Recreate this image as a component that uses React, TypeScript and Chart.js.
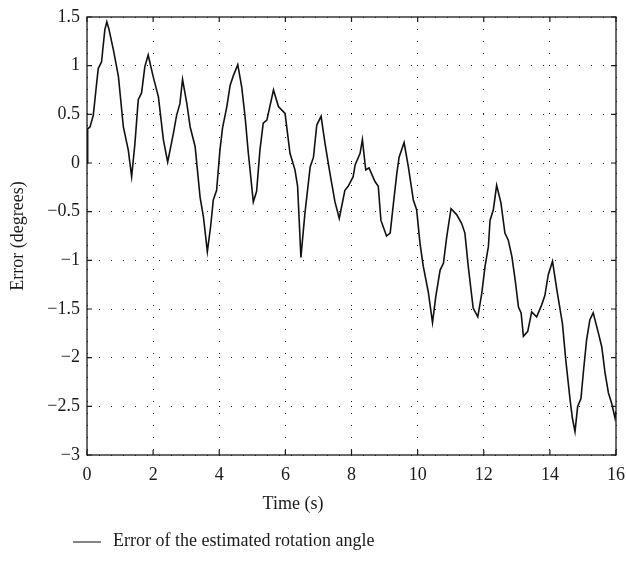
import React, { useEffect, useRef } from "react";
import { Chart, registerables } from "chart.js";

Chart.register(...registerables);

const timeValues: number[] = [
  0, 0.02, 0.09, 0.19, 0.27, 0.34, 0.44, 0.54, 0.6, 0.66, 0.8, 0.95, 1.1, 1.25, 1.35, 1.45, 1.55, 1.65, 1.75, 1.85,
  2.0, 2.16, 2.31, 2.44, 2.61, 2.71, 2.81, 2.89, 3.02, 3.12, 3.27, 3.42, 3.52, 3.64, 3.74, 3.82, 3.92, 4.02, 4.1,
  4.23, 4.33, 4.43, 4.56, 4.68, 4.78, 4.88, 5.03, 5.13, 5.23, 5.33, 5.44, 5.64, 5.79, 5.99, 6.14, 6.29, 6.37, 6.47,
  6.59, 6.75, 6.85, 6.95, 7.08, 7.2, 7.35, 7.5, 7.63, 7.8, 7.9, 8.05, 8.11, 8.26, 8.33, 8.43, 8.53, 8.71, 8.81, 8.89,
  9.06, 9.17, 9.27, 9.37, 9.44, 9.59, 9.72, 9.87, 9.97, 10.07, 10.17, 10.32, 10.45, 10.55, 10.68, 10.78, 10.88,
  11.01, 11.18, 11.33, 11.43, 11.53, 11.68, 11.82, 11.94, 12.04, 12.14, 12.19, 12.29, 12.39, 12.52, 12.64, 12.74,
  12.85, 12.95, 13.05, 13.13, 13.2, 13.33, 13.45, 13.6, 13.75, 13.85, 13.95, 14.08, 14.21, 14.38, 14.48, 14.61,
  14.68, 14.76, 14.84, 14.94, 15.01, 15.11, 15.21, 15.31, 15.47, 15.57, 15.67, 15.77, 15.87, 15.97, 16.0,
];

const errorValues: number[] = [
  0, 0.35, 0.37, 0.49, 0.75, 0.97, 1.04, 1.37, 1.45, 1.38, 1.16, 0.89, 0.37, 0.13, -0.14, 0.2, 0.65, 0.72, 0.99, 1.11,
  0.89, 0.68, 0.24, 0.01, 0.3, 0.49, 0.61, 0.86, 0.61, 0.37, 0.17, -0.35, -0.55, -0.91, -0.65, -0.38, -0.28, 0.13, 0.36,
  0.58, 0.8, 0.9, 1.01, 0.78, 0.48, 0.1, -0.4, -0.29, 0.13, 0.41, 0.44, 0.75, 0.58, 0.51, 0.1, -0.07, -0.24, -0.97,
  -0.52, -0.04, 0.06, 0.39, 0.48, 0.2, -0.11, -0.4, -0.57, -0.28, -0.24, -0.14, -0.02, 0.1, 0.24, -0.07, -0.05, -0.19, -0.24, -0.59,
  -0.75, -0.72, -0.41, -0.11, 0.06, 0.21, -0.04, -0.38, -0.48, -0.82, -1.06, -1.32, -1.64, -1.37, -1.1, -1.03, -0.76,
  -0.47, -0.53, -0.62, -0.72, -1.06, -1.49, -1.58, -1.34, -1.06, -0.86, -0.59, -0.48, -0.23, -0.41, -0.72, -0.79,
  -0.96, -1.2, -1.48, -1.54, -1.78, -1.73, -1.53, -1.58, -1.46, -1.36, -1.15, -1.01, -1.3, -1.65, -2.02, -2.43,
  -2.62, -2.76, -2.5, -2.42, -2.16, -1.82, -1.61, -1.54, -1.75, -1.89, -2.16, -2.36, -2.47, -2.62, -2.55,
];

const xTickValues: number[] = [0, 2, 4, 6, 8, 10, 12, 14, 16];
const yTickValues: number[] = [-3, -2.5, -2, -1.5, -1, -0.5, 0, 0.5, 1, 1.5];

const seriesLabel = "Error of the estimated rotation angle";
const xTitle = "Time (s)";
const yTitle = "Error (degrees)";

const FONT = "'Liberation Serif', 'DejaVu Serif', serif";

const fmt = (v: number) => {
  const s = String(Math.round(v * 10) / 10);
  return s.replace("-", "\u2212");
};

export default function App() {
  const ref = useRef<HTMLCanvasElement | null>(null);

  useEffect(() => {
    if (!ref.current) return;
    const boxPlugin = {
      id: "boxPlugin",
      afterDraw(chart: any) {
        const { ctx, chartArea } = chart;
        const { left, right, top, bottom } = chartArea;
        const xs = chart.scales.x;
        const ys = chart.scales.y;
        ctx.save();
        ctx.strokeStyle = "#1a1a1a";
        ctx.lineWidth = 1.3;
        ctx.strokeRect(left, top, right - left, bottom - top);
        const tl = 5;
        ctx.lineWidth = 1.2;
        ctx.beginPath();
        xTickValues.forEach((v) => {
          const px = xs.getPixelForValue(v);
          ctx.moveTo(px, bottom);
          ctx.lineTo(px, bottom - tl);
          ctx.moveTo(px, top);
          ctx.lineTo(px, top + tl);
        });
        yTickValues.forEach((v) => {
          const py = ys.getPixelForValue(v);
          ctx.moveTo(left, py);
          ctx.lineTo(left + tl, py);
          ctx.moveTo(right, py);
          ctx.lineTo(right - tl, py);
        });
        ctx.stroke();
        // x title
        ctx.fillStyle = "#1a1a1a";
        ctx.font = `18px ${FONT}`;
        ctx.textAlign = "center";
        ctx.textBaseline = "middle";
        ctx.fillText(xTitle, 293, 504);
        // legend
        ctx.beginPath();
        ctx.strokeStyle = "#333";
        ctx.lineWidth = 1.2;
        ctx.moveTo(73, 542);
        ctx.lineTo(101, 542);
        ctx.stroke();
        ctx.textAlign = "left";
        ctx.fillText(seriesLabel, 113, 541);
        ctx.restore();
      },
    };

    const chart = new Chart(ref.current, {
      type: "line",
      data: {
        datasets: [
          {
            label: seriesLabel,
            data: timeValues.map((t, i) => ({ x: t, y: errorValues[i] })),
            borderColor: "#111",
            borderWidth: 1.6,
            pointRadius: 0,
            tension: 0,
            fill: false,
          },
        ],
      },
      options: {
        animation: false,
        responsive: true,
        maintainAspectRatio: false,
        layout: { padding: { left: 0, right: 10, top: 17, bottom: 0 } },
        plugins: {
          legend: { display: false },
          tooltip: { enabled: false },
        },
        scales: {
          x: {
            type: "linear",
            min: 0,
            max: 16,
            afterFit: (s: any) => {
              s.height = 107;
              s.paddingRight = 0;
              s.paddingLeft = 0;
            },
            afterBuildTicks: (s: any) => {
              s.ticks = xTickValues.map((v) => ({ value: v }));
            },
            border: { display: false, dash: [1, 11] },
            grid: {
              drawTicks: false,
              color: "#222",
              lineWidth: 1,
            },
            ticks: {
              padding: 9,
              color: "#1a1a1a",
              font: { family: FONT, size: 18 },
              maxRotation: 0,
              callback: (v: any) => fmt(Number(v)),
            },
          },
          y: {
            type: "linear",
            min: -3,
            max: 1.5,
            afterFit: (s: any) => {
              s.width = 87;
              s.paddingTop = 0;
              s.paddingBottom = 0;
            },
            afterBuildTicks: (s: any) => {
              s.ticks = yTickValues.map((v) => ({ value: v }));
            },
            border: { display: false, dash: [1, 11] },
            grid: {
              drawTicks: false,
              color: "#222",
              lineWidth: 1,
            },
            ticks: {
              padding: 7,
              color: "#1a1a1a",
              font: { family: FONT, size: 18 },
              callback: (v: any) => fmt(Number(v)),
            },
            title: {
              display: true,
              text: yTitle,
              color: "#1a1a1a",
              font: { family: FONT, size: 18 },
              padding: { top: 7, bottom: 0 },
            },
          },
        },
      },
      plugins: [boxPlugin],
    });
    return () => chart.destroy();
  }, []);

  return (
    <div style={{ position: "absolute", left: 0, top: 0, width: 626, height: 562, background: "#fff" }}>
      <canvas ref={ref} />
    </div>
  );
}
